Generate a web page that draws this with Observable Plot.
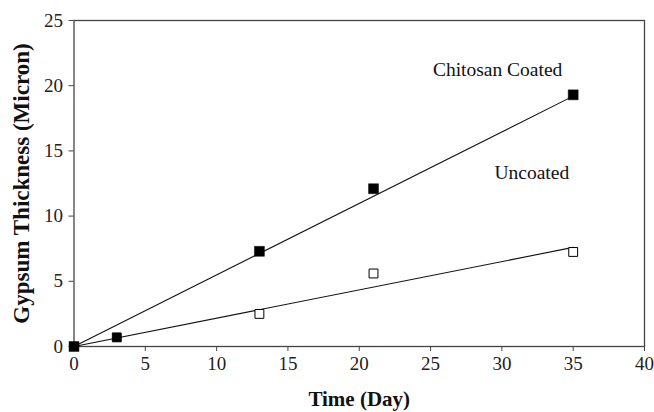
<!DOCTYPE html>
<html>
<head>
<meta charset="utf-8">
<script src="https://cdn.jsdelivr.net/npm/d3@7"></script>
<script src="https://cdn.jsdelivr.net/npm/@observablehq/plot@0.6"></script>
<style>
  html, body { margin: 0; padding: 0; background: #fff; }
  #chart svg { display: block; }
  #chart svg text { font-family: "Liberation Serif", "Times New Roman", serif !important; }
</style>
</head>
<body>
<div id="chart"></div>
<script>
// Measured points
const coatedDays = [0, 13, 21, 35];
const coatedThickness = [0, 7.3, 12.1, 19.3];
const uncoatedDays = [3, 13, 21, 35];
const uncoatedThickness = [0.7, 2.5, 5.6, 7.25];
const uncoatedFilled = [true, false, false, false];

// Fitted lines
const fitDays = [0, 35];
const fitCoated = [0, 19.2];
const fitUncoated = [0, 7.6];

// Ticks
const xTicks = [0, 5, 10, 15, 20, 25, 30, 35, 40];
const yTicks = [0, 5, 10, 15, 20, 25];

// Annotations
const seriesLabels = ["Chitosan Coated", "Uncoated"];
const labelDays = [29.7, 32.1];
const labelThickness = [21.2, 13.3];

const coated = coatedDays.map((d, i) => ({day: d, t: coatedThickness[i]}));
const uncoated = uncoatedDays.map((d, i) => ({day: d, t: uncoatedThickness[i], filled: uncoatedFilled[i]}));
const fitC = fitDays.map((d, i) => ({day: d, t: fitCoated[i]}));
const fitU = fitDays.map((d, i) => ({day: d, t: fitUncoated[i]}));
const labels = seriesLabels.map((s, i) => ({s, day: labelDays[i], t: labelThickness[i]}));

const serif = "'Liberation Serif', 'Times New Roman', serif";

const chart = Plot.plot({
  width: 654,
  height: 412,
  marginLeft: 73.5,
  marginRight: 10,
  marginTop: 20,
  marginBottom: 66,
  style: {fontFamily: serif, fontSize: "19px", color: "#222", background: "#fff"},
  x: {domain: [0, 40], ticks: xTicks, label: null},
  y: {domain: [0, 25], ticks: yTicks, label: null},
  marks: [
    Plot.frame({stroke: "#444", strokeWidth: 1.3}),
    Plot.axisX({ticks: xTicks, tickSize: 5, tickPadding: 5, label: null, fontSize: 19, stroke: "#444", fill: "#222"}),
    Plot.axisY({ticks: yTicks, tickSize: 5, tickPadding: 6, label: null, fontSize: 19, stroke: "#444", fill: "#222"}),
    Plot.line(fitC, {x: "day", y: "t", stroke: "#111", strokeWidth: 1.1}),
    Plot.line(fitU, {x: "day", y: "t", stroke: "#111", strokeWidth: 1.1}),
    Plot.dot(coated, {x: "day", y: "t", symbol: "square", r: 5.6, fill: "#000", stroke: "#000", strokeWidth: 0.5}),
    Plot.dot(uncoated, {x: "day", y: "t", symbol: "square", r: 5.0, fill: d => d.filled ? "#000" : "#fff", stroke: "#000", strokeWidth: 1}),
    Plot.text(labels, {x: "day", y: "t", text: "s", fontSize: 19.5, fontFamily: serif, fill: "#111"}),
    Plot.text(["Time (Day)"], {frameAnchor: "bottom", textAnchor: "middle", lineAnchor: "middle", dy: 53, text: d => d, fontSize: 21, fontWeight: "bold", fontFamily: serif, fill: "#111"}),
    Plot.text(["Gypsum Thickness (Micron)"], {frameAnchor: "left", textAnchor: "middle", lineAnchor: "middle", dx: -52, rotate: -90, text: d => d, fontSize: 23, fontWeight: "bold", fontFamily: serif, fill: "#111"})
  ]
});
document.getElementById("chart").appendChild(chart);
</script>
</body>
</html>
